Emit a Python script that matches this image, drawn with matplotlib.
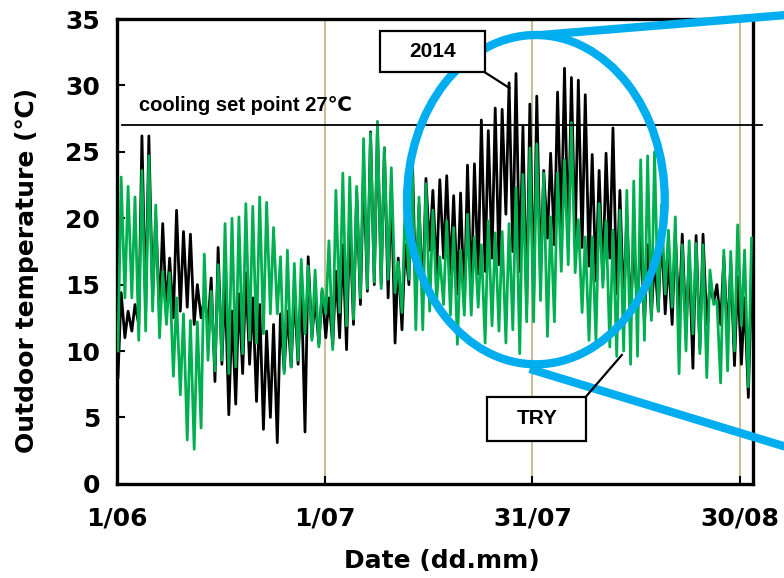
import matplotlib
matplotlib.use("Agg")
import matplotlib.pyplot as plt
import numpy as np
from matplotlib.patches import Ellipse, Rectangle

# daily minimum / maximum outdoor temperature, 1 June .. 31 August (day 0 = 1/06)
try_max = [23.1, 22.4, 21.6, 23.6, 24.7, 21.0, 16.0, 15.9, 14.0, 12.8,
           12.3, 12.2, 17.3, 14.5, 16.5, 19.6, 20.0, 20.1, 21.1, 20.9,
           21.6, 21.2, 19.3, 17.1, 17.6, 16.6, 16.9, 16.4, 16.1, 14.7,
           18.3, 22.1, 23.4, 23.1, 22.4, 26.0, 26.4, 27.3, 25.3, 23.8,
           16.7, 21.1, 24.4, 21.6, 22.6, 20.6, 17.1, 19.8, 19.3, 17.6,
           20.3, 18.6, 18.0, 19.8, 18.9, 19.0, 19.6, 22.3, 23.3, 25.3,
           25.6, 23.4, 20.1, 23.4, 24.4, 27.2, 19.9, 18.6, 18.6, 21.1,
           19.8, 19.1, 20.6, 22.1, 22.8, 24.4, 24.7, 25.0, 21.0, 19.1,
           20.1, 18.0, 18.3, 18.1, 18.0, 16.1, 13.8, 17.6, 17.5, 19.5,
           17.6, 18.5]
try_min = [10.0, 14.0, 14.0, 10.8, 11.5, 13.0, 11.0, 12.0, 8.1, 6.7,
           3.3, 2.6, 4.2, 9.3, 8.5, 9.3, 8.3, 8.8, 9.8, 10.8,
           10.6, 11.3, 12.8, 12.8, 8.3, 8.8, 9.3, 11.3, 10.8, 10.3,
           12.8, 10.1, 12.9, 11.9, 12.4, 14.0, 14.7, 15.2, 14.7, 15.4,
           14.4, 12.9, 15.4, 11.6, 11.6, 13.0, 13.8, 13.5, 12.7, 10.5,
           12.7, 12.7, 13.3, 10.6, 11.9, 11.5, 10.6, 11.6, 9.8, 12.2,
           12.2, 13.8, 11.1, 12.2, 16.0, 16.5, 15.9, 12.9, 10.8, 10.8,
           14.8, 10.3, 9.6, 10.0, 9.0, 9.6, 10.8, 12.3, 13.0, 14.3,
           13.3, 8.3, 10.0, 11.3, 9.8, 8.0, 13.5, 7.6, 8.5, 10.0,
           11.9, 7.3]
y2014_max = [14.4, 13.0, 13.5, 26.2, 26.2, 20.0, 19.6, 17.0, 20.6, 19.0,
             18.8, 15.0, 14.0, 15.5, 17.8, 15.2, 13.0, 14.3, 15.9, 14.0,
             13.5, 11.5, 12.0, 12.8, 13.0, 14.5, 15.3, 17.1, 14.0, 14.5,
             14.0, 16.0, 18.0, 20.0, 22.0, 23.8, 26.5, 26.8, 25.3, 22.5,
             17.0, 18.0, 25.4, 21.0, 23.0, 22.1, 22.9, 23.2, 21.7, 21.9,
             24.0, 24.1, 27.4, 26.6, 28.3, 28.2, 30.2, 30.9, 26.9, 28.6,
             29.2, 23.6, 24.9, 29.5, 31.3, 30.6, 30.4, 29.3, 24.8, 23.6,
             24.9, 26.8, 22.1, 20.3, 18.4, 19.0, 18.0, 17.0, 19.0, 17.0,
             18.8, 18.8, 17.2, 18.7, 18.8, 15.0, 15.0, 17.1, 16.6, 15.6,
             14.0, 15.1]
y2014_min = [8.0, 11.0, 11.5, 12.0, 13.0, 14.0, 12.7, 13.0, 12.5, 13.0,
             13.3, 12.0, 12.5, 12.0, 7.7, 9.0, 5.2, 6.0, 8.3, 9.0,
             6.2, 4.1, 5.0, 3.1, 8.5, 8.8, 9.0, 3.9, 11.0, 10.5,
             11.0, 10.4, 11.0, 10.1, 12.0, 13.5, 14.5, 15.0, 15.0, 14.0,
             10.6, 11.6, 15.0, 14.0, 14.0, 17.6, 15.8, 17.0, 15.8, 14.3,
             13.3, 14.0, 15.8, 16.0, 17.0, 16.5, 20.3, 17.5, 16.0, 13.3,
             14.0, 15.6, 18.5, 18.0, 19.0, 18.0, 18.0, 17.8, 16.4, 15.3,
             15.3, 17.0, 14.3, 13.3, 12.8, 13.0, 12.0, 12.6, 13.0, 12.8,
             12.0, 12.5, 11.4, 8.7, 10.2, 12.0, 13.7, 12.0, 11.0, 8.9,
             9.0, 6.5]

hour_min, hour_max = 4, 15          # hour of day of minimum / maximum
tick_days = [0, 30, 60, 90]
tick_labels = ["1/06", "1/07", "31/07", "30/08"]
set_point = 27

GREEN = "#00B050"
BLUE = "#00AEEF"
GRID = "#C8BE98"
ARIAL = ["Liberation Sans", "DejaVu Sans"]


def daily_series(tmin, tmax):
    days = np.arange(len(tmin))
    x = np.column_stack([days + hour_min / 24, days + hour_max / 24]).ravel()
    y = np.column_stack([tmin, tmax]).ravel()
    return x, y


fig = plt.figure(figsize=(7.84, 5.78), dpi=100)
ax = fig.add_axes([0.149, 0.163, 0.812, 0.804])

for d in tick_days[1:]:
    ax.axvline(d, color=GRID, lw=1.5, zorder=0.5)

x, y = daily_series(y2014_min, y2014_max)
ax.plot(x, y, color="black", lw=2.0, zorder=2)
x, y = daily_series(try_min, try_max)
ax.plot(x, y, color=GREEN, lw=2.0, zorder=3)

ax.axhline(set_point, xmin=0.008, xmax=1.013, color="black", lw=1.3,
           clip_on=False, zorder=4)
ax.text(3.2, set_point + 0.8, "cooling set point 27\u2103", fontsize=14.5,
        fontweight="bold", family=ARIAL, va="bottom", ha="left")

ax.set_xlim(0, 91.9)
ax.set_ylim(0, 35)
ax.set_yticks(range(0, 36, 5))
ax.set_xticks(tick_days)
ax.set_xticklabels(tick_labels)
ax.tick_params(direction="in", length=6, width=1.5, labelsize=18, pad=12)
ax.tick_params(axis="x", pad=16)
for lab in ax.get_xticklabels() + ax.get_yticklabels():
    lab.set_fontweight("bold")
for sp in ax.spines.values():
    sp.set_linewidth(2.4)

ax.set_xlabel("Date (dd.mm)", fontsize=18, fontweight="bold")
ax.set_ylabel("Outdoor temperature (\u2103)", fontsize=18, fontweight="bold")
ax.xaxis.set_label_coords(0.51, -0.14)
ax.yaxis.set_label_coords(-0.122, 0.46)

# zoom ellipse and callout lines
ax.add_patch(Ellipse((60.5, 21.4), 37.2, 24.8, fill=False, edgecolor=BLUE,
                     lw=6, clip_on=False, zorder=6))
ax.plot([61.2, 96.5], [33.8, 35.3], color=BLUE, lw=6, clip_on=False,
        zorder=6, solid_capstyle="butt")
ax.plot([59.6, 96.5], [8.65, 2.8], color=BLUE, lw=6, clip_on=False,
        zorder=6, solid_capstyle="butt")

# labels for the two series
for (x0, y0, w, h, label, lx, ly) in [
        (37.95, 31.0, 15.15, 3.09, "2014", [53.1, 56.7], [31.0, 29.8]),
        (53.5, 3.24, 14.3, 3.31, "TRY", [67.7, 72.9], [6.55, 9.7])]:
    ax.add_patch(Rectangle((x0, y0), w, h, facecolor="white", edgecolor="black",
                           lw=1.6, zorder=7, clip_on=False))
    ax.text(x0 + w / 2, y0 + h / 2, label, fontsize=15, fontweight="bold",
            family=ARIAL, ha="center", va="center", zorder=8)
    ax.plot(lx, ly, color="black", lw=1.6, zorder=7, clip_on=False)

fig.savefig("out.png", dpi=100)
